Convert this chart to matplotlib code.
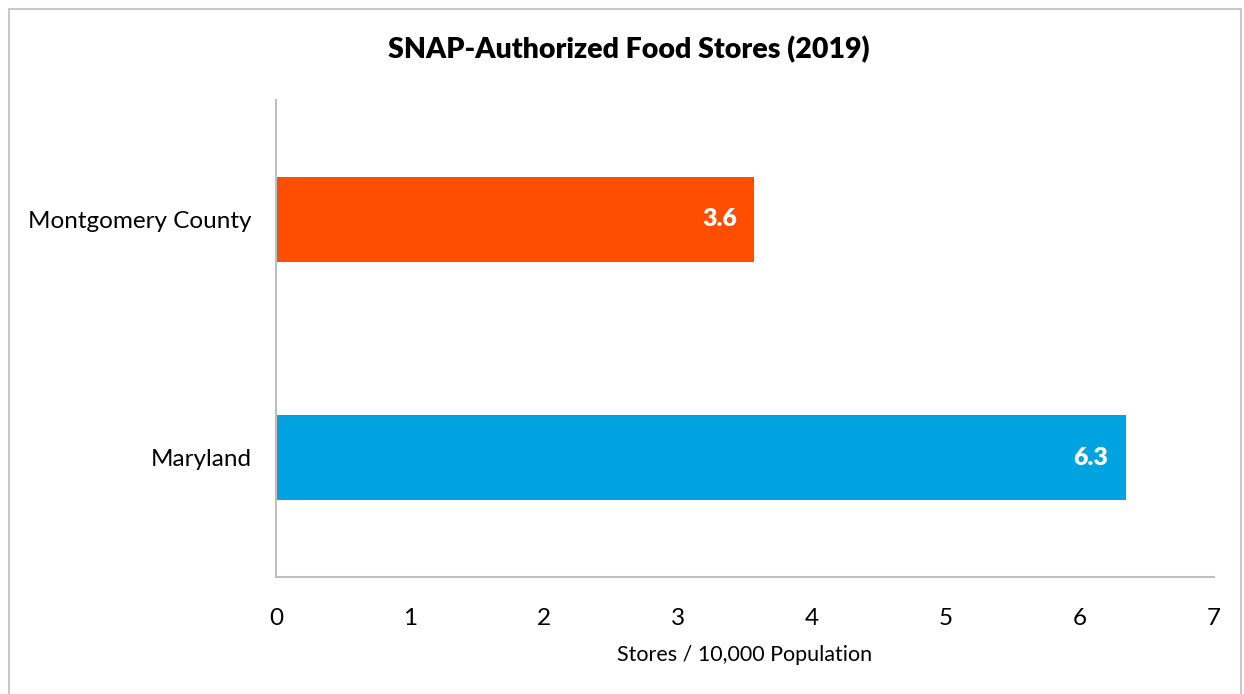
import matplotlib
matplotlib.use("Agg")
import matplotlib.pyplot as plt
from matplotlib.patches import Rectangle
from matplotlib.transforms import offset_copy

# ── Data ──────────────────────────────────────────────────────────────────
areas  = ["Maryland", "Montgomery County"]
values = [6.34, 3.57]
colors = ["#00A3E0", "#FF4E00"]
xticks = [0, 1, 2, 3, 4, 5, 6, 7]

plt.rcParams["font.family"] = ["Lato", "DejaVu Sans"]

fig = plt.figure(figsize=(12.44, 6.94), dpi=100)
ax = fig.add_axes([276 / 1244, 1 - 577 / 694, 938 / 1244, 477 / 694])

y = list(range(len(areas)))
bars = ax.barh(y, values, height=0.356, color=colors)

for bar, v in zip(bars, values):
    tr = offset_copy(ax.transData, fig=fig, x=-17, y=0, units="dots")
    ax.text(bar.get_width(), bar.get_y() + bar.get_height() / 2, f"{v:.1f}",
            transform=tr, ha="right", va="center", color="white",
            fontsize=18, fontweight="heavy")

ax.set_xlim(0, 7)
ax.set_ylim(-0.5, 1.5)
ax.set_xticks(xticks)
ax.set_yticks(y)
ax.set_yticklabels(areas)
ax.tick_params(axis="both", length=0, labelsize=17.5)
ax.tick_params(axis="x", pad=22)
ax.tick_params(axis="y", pad=17.5)
for s in ("top", "right"):
    ax.spines[s].set_visible(False)
for s in ("left", "bottom"):
    ax.spines[s].set_color("#BFBFBF")
    ax.spines[s].set_linewidth(1.5)

ax.set_xlabel("Stores / 10,000 Population", fontsize=15.5, labelpad=12)
fig.text(629 / 1244, 1 - 50 / 694,
         "SNAP-Authorized Food Stores (2019)",
         ha="center", va="center", fontsize=20.5, fontweight="heavy")

# outer chart border
fig.patches.append(Rectangle((9 / 1244, -0.02), 1232 / 1244, 1.02 - 9 / 694,
                             transform=fig.transFigure, fill=False,
                             edgecolor="#C8C8C8", linewidth=1.5))

fig.savefig("out.png", dpi=100)
